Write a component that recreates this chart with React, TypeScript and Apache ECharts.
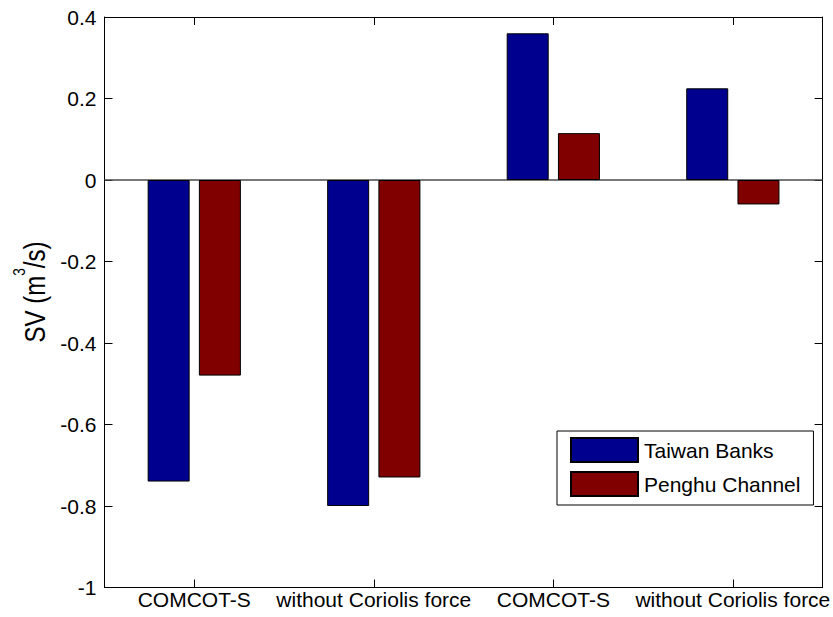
import React, { useEffect, useRef } from "react";
import * as echarts from "echarts";

const categories = ["COMCOT-S", "without Coriolis force", "COMCOT-S", "without Coriolis force"];
const taiwanBanks = [-0.74, -0.8, 0.36, 0.225];
const penghuChannel = [-0.48, -0.73, 0.115, -0.06];
const seriesNames = ["Taiwan Banks", "Penghu Channel"];
const yMin = -1;
const yMax = 0.4;
const yStep = 0.2;

const FONT = "'Liberation Sans', Arial, Helvetica, sans-serif";

export default function App() {
  const ref = useRef<HTMLDivElement>(null);
  useEffect(() => {
    if (!ref.current) return;
    const chart = echarts.init(ref.current, null, { renderer: "svg" });
    const yAxisBase = {
      type: "value" as const,
      min: yMin,
      max: yMax,
      interval: yStep,
      splitLine: { show: false },
      axisLine: { show: true, lineStyle: { color: "#000", width: 1 } },
      axisTick: { show: true, inside: true, length: 8, lineStyle: { color: "#000", width: 1 } },
    };
    const xAxisBase = {
      type: "category" as const,
      data: categories,
      axisLine: { show: true, onZero: false, lineStyle: { color: "#000", width: 1 } },
      axisTick: { show: true, inside: true, length: 8, alignWithLabel: true, lineStyle: { color: "#000", width: 1 } },
      splitLine: { show: false },
    };
    chart.setOption({
      animation: false,
      backgroundColor: "#fff",
      textStyle: { fontFamily: FONT },
      grid: { left: 104.5, right: 8, top: 17, bottom: 29.5, containLabel: false },
      xAxis: [
        {
          ...xAxisBase,
          position: "bottom",
          axisLabel: { show: true, color: "#000", fontSize: 21, fontFamily: FONT, margin: 1.5, interval: 0 },
        },
        {
          ...xAxisBase,
          position: "top",
          axisLabel: { show: false },
        },
      ],
      yAxis: [
        {
          ...yAxisBase,
          position: "left",
          axisLabel: { show: true, color: "#000", fontSize: 21, fontFamily: FONT, margin: 8 },
        },
        {
          ...yAxisBase,
          position: "right",
          axisLabel: { show: false },
        },
      ],
      legend: {
        show: true,
        orient: "vertical",
        left: 557,
        top: 431,
        padding: [6, 13, 8, 13],
        itemWidth: 67,
        itemHeight: 24,
        itemGap: 8,
        icon: "rect",
        backgroundColor: "#fff",
        borderColor: "#000",
        borderWidth: 1,
        borderRadius: 0,
        textStyle: { color: "#000", fontSize: 21, fontFamily: FONT, padding: [0, 0, 0, 1] },
        data: seriesNames,
      },
      graphic: [
        {
          type: "text",
          x: 35,
          y: 292,
          rotation: Math.PI / 2,
          scaleX: 0.8,
          style: {
            text: "{a|SV (m}{sup|3}{a|/s)}",
            align: "center",
            verticalAlign: "middle",
            fill: "#000",
            rich: {
              a: { fontSize: 30, fontFamily: FONT, fill: "#000", verticalAlign: "middle" },
              sup: { fontSize: 17, fontFamily: FONT, fill: "#000", padding: [0, 0, 32, 0], verticalAlign: "middle" },
            },
          },
        },
      ],
      series: [
        {
          name: seriesNames[0],
          type: "bar",
          data: taiwanBanks,
          barWidth: 42,
          barGap: "22%",
          itemStyle: { color: "#00008F", borderColor: "#000", borderWidth: 1 },
          markLine: {
            silent: true,
            symbol: "none",
            label: { show: false },
            lineStyle: { color: "#4a4a4a", width: 1.5, type: "solid" },
            data: [{ yAxis: 0 }],
            z: 1,
          },
        },
        {
          name: seriesNames[1],
          type: "bar",
          data: penghuChannel,
          barWidth: 42,
          barGap: "22%",
          itemStyle: { color: "#800000", borderColor: "#000", borderWidth: 1 },
        },
      ],
    });
    return () => chart.dispose();
  }, []);
  return (
    <div
      ref={ref}
      style={{ position: "absolute", left: 0, top: 0, width: 833, height: 617, background: "#fff" }}
    />
  );
}
